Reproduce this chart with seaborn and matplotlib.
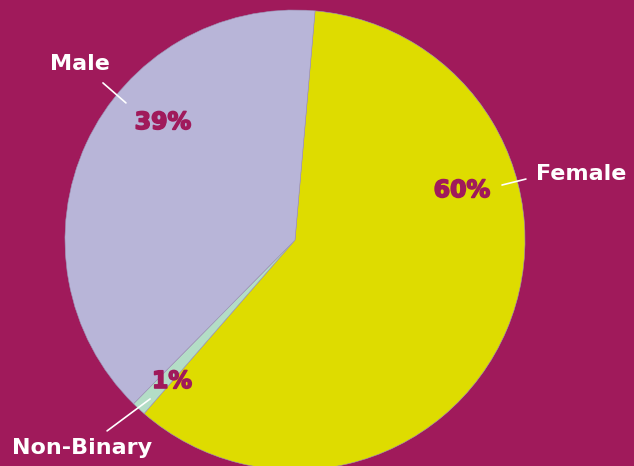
import matplotlib.pyplot as plt
import matplotlib.patheffects as pe
import seaborn as sns

# data
labels = ["Female", "Non-Binary", "Male"]
shares = [60, 1, 39]

bg = "#A01A5B"
colors = ["#DEDC00", "#B3DDC6", "#B8B5D8"]

sns.set_theme(style="white")
plt.rcParams["font.family"] = ["DejaVu Sans"]

fig = plt.figure(figsize=(6.34, 4.66), dpi=100, facecolor=bg)
ax = fig.add_axes([0, 0, 1, 1])
ax.set_facecolor(bg)

wedges, _ = ax.pie(shares, colors=colors, startangle=85, counterclock=False,
                   radius=1, center=(0, 0),
                   wedgeprops=dict(edgecolor="#9C98B8", linewidth=0.4))

# map pixels: center at (295,240), radius 230 px
ax.set_xlim(-295 / 230, 339 / 230)
ax.set_ylim(-226 / 230, 240 / 230)
ax.set_aspect("equal")
ax.axis("off")

# label placement (name pos, pct pos, leader line)
place = {
    "Female": ((1.048, 0.287, "left"), (0.726, 0.217), ((0.90, 0.239), (1.004, 0.265))),
    "Male": ((-0.933, 0.765, "center"), (-0.574, 0.513), ((-0.835, 0.683), (-0.735, 0.596))),
    "Non-Binary": ((-0.926, -0.904, "center"), (-0.535, -0.613), ((-0.817, -0.830), (-0.630, -0.691))),
}

for lab, val in zip(labels, shares):
    (nx, ny, ha), (px, py), (p0, p1) = place[lab]
    ax.text(nx, ny, lab, color="white", fontsize=16, fontweight="bold",
            ha=ha, va="center")
    ax.text(px, py, f"{val}%", color=bg, fontsize=17, fontweight="bold",
            ha="center", va="center",
            path_effects=[pe.withStroke(linewidth=1.2, foreground=bg)])
    ax.plot([p0[0], p1[0]], [p0[1], p1[1]], color="white", lw=1.2)

fig.savefig("out.png", dpi=100, facecolor=bg)
